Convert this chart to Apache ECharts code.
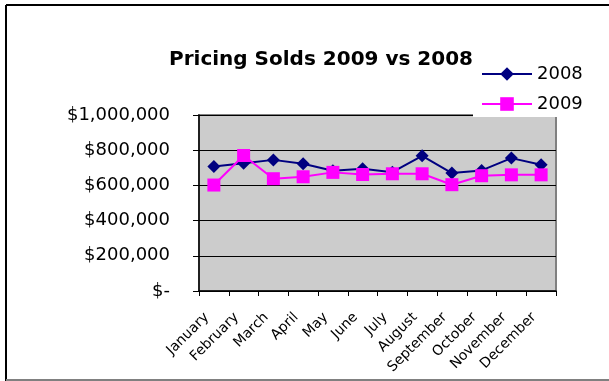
<!DOCTYPE html>
<html>
<head>
<meta charset="utf-8">
<script src="https://cdn.jsdelivr.net/npm/echarts@6/dist/echarts.min.js"></script>
<style>
  html, body { margin: 0; padding: 0; background: #fff; }
  #chart { width: 609px; height: 381px; }
</style>
</head>
<body>
<div id="chart"></div>
<script>
// Monthly average sold prices, in dollars
const months = ['January', 'February', 'March', 'April', 'May', 'June',
  'July', 'August', 'September', 'October', 'November', 'December'];
const sold2008 = [707000, 726000, 745000, 723000, 683000, 694000,
  675000, 768000, 670000, 685000, 755000, 717000];
const sold2009 = [602000, 770000, 638000, 649000, 674000, 662000,
  666000, 666000, 604000, 655000, 660000, 660000];
const yTicks = { min: 0, max: 1000000, step: 200000 };

const font = 'DejaVu Sans';

function money(v) {
  if (v === 0) return '$-';
  return '$' + v.toLocaleString('en-US');
}

const chart = echarts.init(document.getElementById('chart'), null, { renderer: 'canvas' });
chart.setOption({
  animation: false,
  backgroundColor: '#ffffff',
  title: {
    text: 'Pricing Solds 2009 vs 2008',
    left: 316,
    textAlign: 'center',
    top: 45,
    textStyle: { fontFamily: font, fontWeight: 'bold', fontSize: 20, color: '#000' }
  },
  legend: {
    orient: 'vertical',
    left: 473,
    top: 57,
    padding: [8, 27, 4, 8],
    itemGap: 12,
    itemWidth: 50,
    itemHeight: 17,
    backgroundColor: '#ffffff',
    textStyle: { fontFamily: font, fontSize: 18, color: '#000' },
    data: ['2008', '2009']
  },
  grid: {
    left: 199, right: 53, top: 115, bottom: 90,
    show: true,
    backgroundColor: '#CCCCCC',
    borderColor: '#808080',
    borderWidth: 2
  },
  xAxis: {
    type: 'category',
    data: months,
    boundaryGap: true,
    axisLine: { show: true, lineStyle: { color: '#000', width: 1.5 } },
    axisTick: { show: true, inside: false, length: 5, alignWithLabel: false, lineStyle: { color: '#000' } },
    axisLabel: {
      interval: 0,
      rotate: 45,
      margin: 17,
      padding: [0, 10, 0, 0],
      fontFamily: font,
      fontSize: 14,
      color: '#000'
    }
  },
  yAxis: {
    type: 'value',
    min: yTicks.min,
    max: yTicks.max,
    interval: yTicks.step,
    axisLine: { show: true, lineStyle: { color: '#000', width: 1.5 } },
    axisTick: { show: true, inside: false, length: 6, lineStyle: { color: '#000' } },
    splitLine: { show: true, lineStyle: { color: '#000', width: 1 } },
    axisLabel: {
      formatter: money,
      margin: 29,
      fontFamily: font,
      fontSize: 18,
      color: '#000'
    }
  },
  series: [
    {
      name: '2008',
      type: 'line',
      data: sold2008,
      symbol: 'diamond',
      symbolSize: 13,
      lineStyle: { color: '#000080', width: 2 },
      itemStyle: { color: '#000080' }
    },
    {
      name: '2009',
      type: 'line',
      data: sold2009,
      symbol: 'rect',
      symbolSize: 13,
      lineStyle: { color: '#FF00FF', width: 2 },
      itemStyle: { color: '#FF00FF' }
    }
  ],
  graphic: [
    { type: 'line', shape: { x1: 6, y1: 5, x2: 609, y2: 5 }, style: { stroke: '#000', lineWidth: 2 } },
    { type: 'line', shape: { x1: 6, y1: 5, x2: 6, y2: 381 }, style: { stroke: '#000', lineWidth: 2 } },
    { type: 'line', shape: { x1: 6, y1: 380, x2: 609, y2: 380 }, style: { stroke: '#808080', lineWidth: 2 } }
  ]
});
</script>
</body>
</html>
